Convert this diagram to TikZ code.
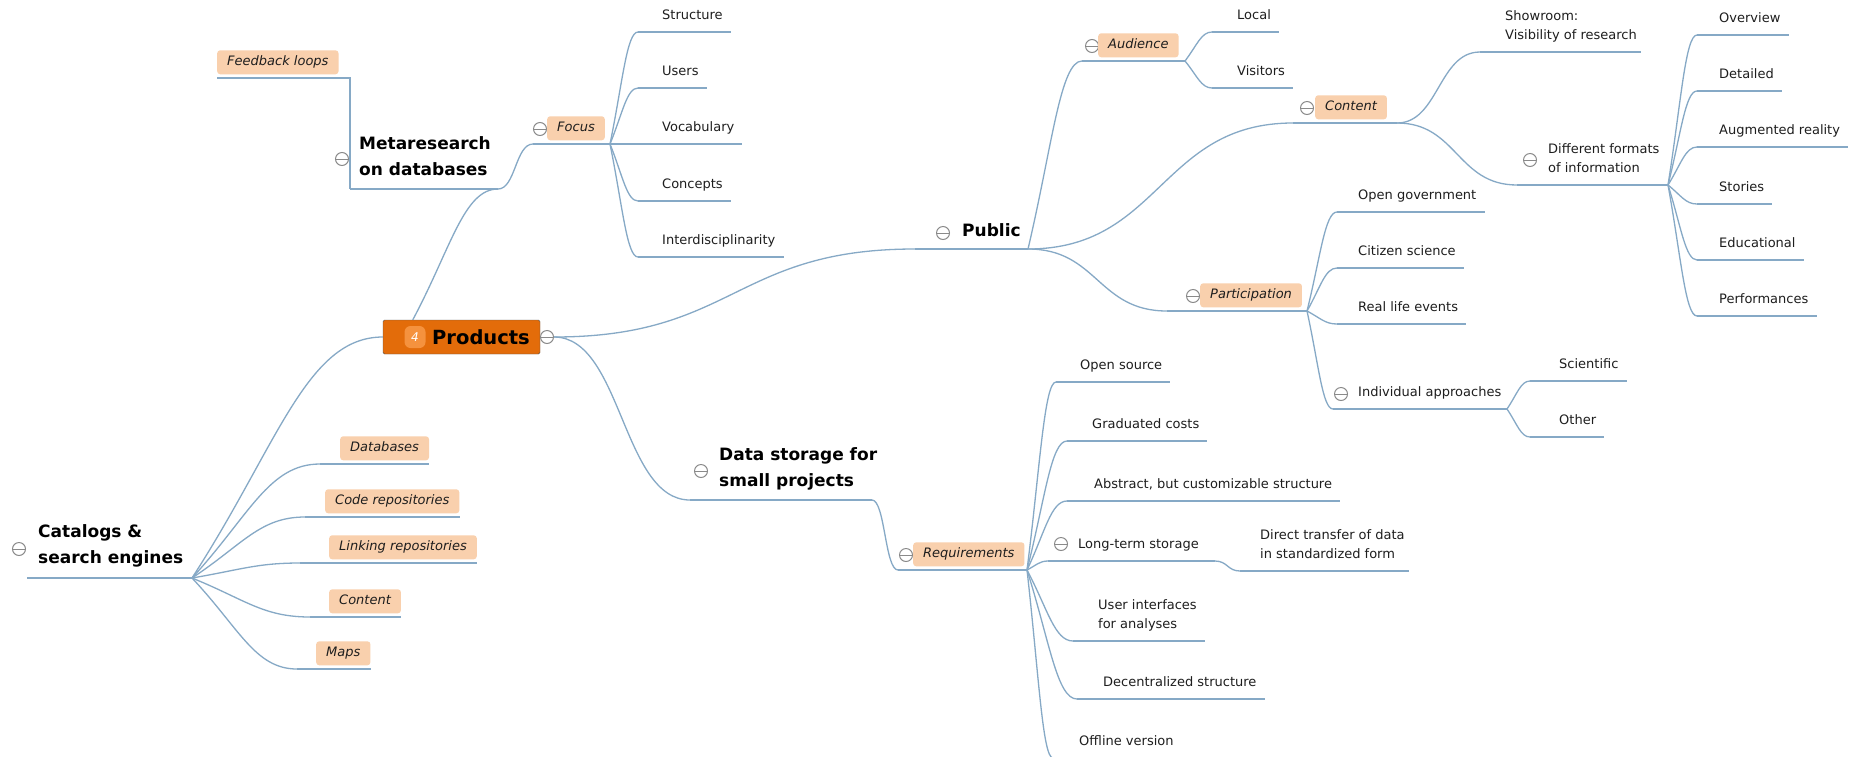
\documentclass[tikz,border=0pt]{standalone}
\usepackage{fontspec}
\setmainfont{DejaVu Sans}
\usetikzlibrary{calc}
\definecolor{lnc}{HTML}{86A9C6}
\definecolor{peach}{HTML}{F9D0AD}
\definecolor{prodor}{HTML}{E36C0A}
\definecolor{badgeor}{HTML}{F5923E}
\definecolor{icog}{HTML}{8A8A8A}
\definecolor{txc}{HTML}{1E1E1E}
\begin{document}
\begin{tikzpicture}[x=1pt,y=-1pt,
 conn/.style={draw=lnc,line width=1.3pt},
 leaf/.style={anchor=base west,inner sep=0pt,align=left,text=txc,font=\fontsize{13}{19}\selectfont},
 topic/.style={anchor=base west,inner sep=0pt,align=left,text=black,font=\bfseries\fontsize{17}{26}\selectfont},
 lab/.style={anchor=south west,fill=peach,rounded corners=3pt,inner xsep=10pt,inner ysep=5pt,text height=10.5pt,text depth=3.5pt,text=txc,font=\itshape\fontsize{13}{19}\selectfont},
 ico/.style={circle,draw=icog,line width=1pt,fill=white,minimum size=13pt,inner sep=0pt,path picture={\draw[icog,line width=1pt] (path picture bounding box.west) -- (path picture bounding box.east);}},
 fan/.style={to path={let \p1=(\tikztostart),\p2=(\tikztotarget) in .. controls ({\x1+0.45*(\x2-\x1)},{\y1+0.55*(\y2-\y1)}) and ({\x1+0.6*(\x2-\x1)},\y2) .. (\tikztotarget)}},
 scurve/.style={to path={let \p1=(\tikztostart),\p2=(\tikztotarget) in .. controls ({\x1+0.5*(\x2-\x1)},\y1) and ({\x1+0.5*(\x2-\x1)},\y2) .. (\tikztotarget)}}
]
\useasboundingbox (0,0) rectangle (1849,756);
\clip (0,0) rectangle (1849,756);
\fill[white] (0,0) rectangle (1849,756);

% ---------- Products ----------
\node[draw=gray!70!black,fill=prodor,rounded corners=1.5pt,minimum width=157pt,minimum height=34pt,inner sep=0pt] (prod) at (461.5,337) {};
\node[fill=badgeor,rounded corners=6pt,minimum width=21pt,minimum height=22pt,inner sep=0pt,text=white,font=\itshape\fontsize{12}{12}\selectfont] (badge) at (415,337) {4};
\node[anchor=base west,inner sep=0pt,font=\bfseries\fontsize{19.5}{20}\selectfont] (prodT) at (432,344) {Products};
\node[ico] (prodI) at (547,337) {};
\coordinate (prodTop) at ($(prod.north west)+(30,0)$);

% ---------- Catalogs ----------
\node[ico] (catI) at (19,549) {};
\node[topic] (cat) at (38,563) {Catalogs \&\\search engines};
\coordinate (catL) at (27,578); \coordinate (catR) at (192,578);
\draw[conn] (catL) -- (catR);
\draw[conn] (catR) to[fan] (prod.west);

\node[lab] (cdb) at (340,460.5) {Databases}; \coordinate (cdbL) at (320,464);
\node[lab] (ccr) at (325,513.5) {Code repositories}; \coordinate (ccrL) at (305,517);
\node[lab] (clr) at (329,559.5) {Linking repositories}; \coordinate (clrL) at (300,563);
\node[lab] (cct) at (329,613.5) {Content}; \coordinate (cctL) at (310,617);
\node[lab] (cmp) at (316,665.5) {Maps}; \coordinate (cmpL) at (297,669);
\foreach \nm in {cdb,ccr,clr,cct,cmp}{
  \draw[conn] (catR) to[fan] (\nm L);
  \draw[conn] (\nm L) -- (\nm L -| \nm.east);
}

% ---------- Metaresearch ----------
\node[ico] (metaI) at (342,159) {};
\node[topic] (meta) at (359,175) {Metaresearch\\on databases};
\coordinate (metaL) at (350,189); \coordinate (metaR) at (498,189);
\draw[conn] (metaL) -- (metaR);
\draw[conn] (prodTop) to[fan] (metaR);
\node[lab] (fb) at (217,74.5) {Feedback loops}; \coordinate (fbL) at (217,78);
\draw[conn] (fbL) -- (fbL -| metaL) -- (metaL);

% ---------- Focus ----------
\node[ico] (focI) at (540,129) {};
\node[lab] (foc) at (547,140.5) {Focus};
\coordinate (focL) at (533,144); \coordinate (focR) at (610,144);
\draw[conn] (metaR) to[scurve] (focL);
\draw[conn] (focL) -- (focR);
\node[leaf] (fst) at (662,19) {Structure}; \coordinate (fstL) at (638,32);
\node[leaf] (fus) at (662,75) {Users}; \coordinate (fusL) at (638,88);
\node[leaf] (fvo) at (662,131) {Vocabulary}; \coordinate (fvoL) at (638,144);
\node[leaf] (fco) at (662,188) {Concepts}; \coordinate (fcoL) at (638,201);
\node[leaf] (fin) at (662,244) {Interdisciplinarity}; \coordinate (finL) at (638,257);
\foreach \nm in {fst,fus,fvo,fco,fin}{
  \draw[conn] (focR) to[fan] (\nm L);
  \draw[conn] (\nm L) -- ($(\nm L -| \nm.east)+(8,0)$);
}

% ---------- Public ----------
\node[ico] (pubI) at (943,233) {};
\node[topic] (pub) at (962,236) {Public};
\coordinate (pubL) at (915,249); \coordinate (pubR) at (1028,249);
\draw[conn] (prodI.east) to[scurve] (pubL);
\draw[conn] (pubL) -- (pubR);

% Audience
\node[ico] (audI) at (1092,46) {};
\node[lab] (aud) at (1098,57.5) {Audience};
\coordinate (audL) at (1082,61); \coordinate (audR) at (1185,61);
\draw[conn] (pubR) to[fan] (audL);
\draw[conn] (audL) -- (audR);
\node[leaf] (alo) at (1237,19) {Local}; \coordinate (aloL) at (1212,32);
\node[leaf] (avi) at (1237,75) {Visitors}; \coordinate (aviL) at (1212,88);
\foreach \nm in {alo,avi}{
  \draw[conn] (audR) to[fan] (\nm L);
  \draw[conn] (\nm L) -- ($(\nm L -| \nm.east)+(8,0)$);
}

% Content
\node[ico] (conI) at (1307,108) {};
\node[lab] (con) at (1315,119.5) {Content};
\coordinate (conL) at (1293,123); \coordinate (conR) at (1397,123);
\draw[conn] (pubR) to[scurve] (conL);
\draw[conn] (conL) -- (conR);
\node[leaf] (csh) at (1505,39) {Showroom:\\Visibility of research}; \coordinate (cshL) at (1480,52);
\draw[conn] (conR) to[scurve] (cshL);
\draw[conn] (cshL) -- ($(cshL -| csh.east)+(4,0)$);
\node[ico] (dfI) at (1530,160) {};
\node[leaf] (df) at (1548,172) {Different formats\\of information};
\coordinate (dfL) at (1517,185); \coordinate (dfR) at (1668,185);
\draw[conn] (conR) to[scurve] (dfL);
\draw[conn] (dfL) -- (dfR);
\node[leaf] (dov) at (1719,22) {Overview}; \coordinate (dovL) at (1697,35);
\node[leaf] (dde) at (1719,78) {Detailed}; \coordinate (ddeL) at (1697,91);
\node[leaf] (dar) at (1719,134) {Augmented reality}; \coordinate (darL) at (1697,147);
\node[leaf] (dst) at (1719,191) {Stories}; \coordinate (dstL) at (1697,204);
\node[leaf] (ded) at (1719,247) {Educational}; \coordinate (dedL) at (1697,260);
\node[leaf] (dpe) at (1719,303) {Performances}; \coordinate (dpeL) at (1697,316);
\foreach \nm in {dov,dde,dar,dst,ded,dpe}{
  \draw[conn] (dfR) to[fan] (\nm L);
  \draw[conn] (\nm L) -- ($(\nm L -| \nm.east)+(8,0)$);
}

% Participation
\node[ico] (parI) at (1193,296) {};
\node[lab] (par) at (1200,307.5) {Participation};
\coordinate (parL) at (1167,311); \coordinate (parR) at (1307,311);
\draw[conn] (pubR) to[scurve] (parL);
\draw[conn] (parL) -- (parR);
\node[leaf] (pog) at (1358,199) {Open government}; \coordinate (pogL) at (1337,212);
\node[leaf] (pcs) at (1358,255) {Citizen science}; \coordinate (pcsL) at (1337,268);
\node[leaf] (prl) at (1358,311) {Real life events}; \coordinate (prlL) at (1337,324);
\foreach \nm in {pog,pcs,prl}{
  \draw[conn] (parR) to[fan] (\nm L);
  \draw[conn] (\nm L) -- ($(\nm L -| \nm.east)+(8,0)$);
}
\node[ico] (iaI) at (1341,394) {};
\node[leaf] (ia) at (1358,396) {Individual approaches};
\coordinate (iaL) at (1333,409); \coordinate (iaR) at (1507,409);
\draw[conn] (parR) to[fan] (iaL);
\draw[conn] (iaL) -- (iaR);
\node[leaf] (isc) at (1559,368) {Scientific}; \coordinate (iscL) at (1530,381);
\node[leaf] (iot) at (1559,424) {Other}; \coordinate (iotL) at (1530,437);
\foreach \nm in {isc,iot}{
  \draw[conn] (iaR) to[fan] (\nm L);
  \draw[conn] (\nm L) -- ($(\nm L -| \nm.east)+(8,0)$);
}

% ---------- Data storage ----------
\node[ico] (daI) at (701,471) {};
\node[topic] (da) at (719,486) {Data storage for\\small projects};
\coordinate (daL) at (690,500); \coordinate (daR) at (872,500);
\draw[conn] (prodI.east) to[scurve] (daL);
\draw[conn] (daL) -- (daR);
\node[ico] (rqI) at (906,555) {};
\node[lab] (rq) at (913,566.5) {Requirements};
\coordinate (rqL) at (898,570); \coordinate (rqR) at (1027,570);
\draw[conn] (daR) to[scurve] (rqL);
\draw[conn] (rqL) -- (rqR);
\node[leaf] (ros) at (1080,369) {Open source}; \coordinate (rosL) at (1056,382);
\node[leaf] (rgc) at (1092,428) {Graduated costs}; \coordinate (rgcL) at (1067,441);
\node[leaf] (rab) at (1094,488) {Abstract, but customizable structure}; \coordinate (rabL) at (1067,501);
\node[leaf] (rui) at (1098,628) {User interfaces\\for analyses}; \coordinate (ruiL) at (1073,641);
\node[leaf] (rdc) at (1103,686) {Decentralized structure}; \coordinate (rdcL) at (1077,699);
\node[leaf] (rof) at (1079,745) {Offline version}; \coordinate (rofL) at (1053,758);
\foreach \nm in {ros,rgc,rab,rui,rdc,rof}{
  \draw[conn] (rqR) to[fan] (\nm L);
  \draw[conn] (\nm L) -- ($(\nm L -| \nm.east)+(8,0)$);
}
\node[ico] (rltI) at (1061,544) {};
\node[leaf] (rlt) at (1078,548) {Long-term storage};
\coordinate (rltL) at (1048,561); \coordinate (rltR) at (1215,561);
\draw[conn] (rqR) to[fan] (rltL);
\draw[conn] (rltL) -- (rltR);
\node[leaf] (rdt) at (1260,558) {Direct transfer of data\\in standardized form};
\coordinate (rdtL) at (1240,571);
\draw[conn] (rltR) to[scurve] (rdtL);
\draw[conn] (rdtL) -- ($(rdtL -| rdt.east)+(4,0)$);
\end{tikzpicture}
\end{document}
